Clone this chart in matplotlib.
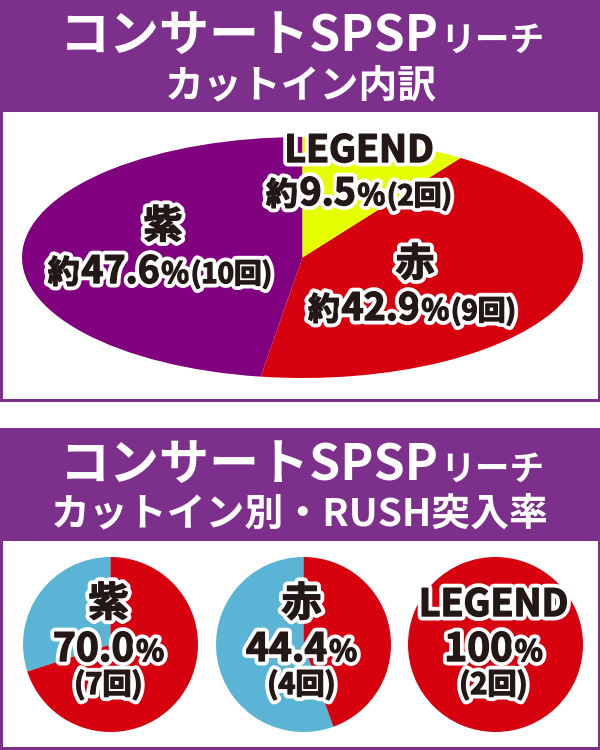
import matplotlib
matplotlib.use("Agg")
import matplotlib.pyplot as plt
import matplotlib.patheffects as pe
from matplotlib.patches import Rectangle

plt.rcParams['font.family'] = ['Noto Sans CJK JP', 'DejaVu Sans']

# --- data ---
cutin_names = ['紫', '赤', 'LEGEND']
cutin_counts = [10, 9, 2]          # カットイン出現回数
rush_hits = [7, 4, 2]              # うちRUSH突入回数
title_top = ['コンサートSPSP', 'リーチ', 'カットイン内訳']
title_bottom = ['コンサートSPSP', 'リーチ', 'カットイン別・RUSH突入率']

# --- colours ---
HEADER = '#7c2f8b'
PURPLE = '#800080'
RED = '#d7000f'
YELLOW = '#e5ff00'
BLUE = '#5ab4d6'
INK = '#231815'

W, H = 600, 750
fig = plt.figure(figsize=(6, 7.5), dpi=100)

bg = fig.add_axes([0, 0, 1, 1])
bg.set_xlim(0, W)
bg.set_ylim(H, 0)
bg.axis('off')


def px_axes(x0, y0, x1, y1, **kw):
    # axes placed by pixel box (y from the top)
    return fig.add_axes([x0 / W, 1 - y1 / H, (x1 - x0) / W, (y1 - y0) / H], **kw)


# panels: purple frame + header, white body
bg.add_patch(Rectangle((0, 0), W, 402, color=HEADER, lw=0))
bg.add_patch(Rectangle((3, 112), 594.5, 287, color='white', lw=0))
bg.add_patch(Rectangle((0, 428), W, 322, color=HEADER, lw=0))
bg.add_patch(Rectangle((3, 541), 594.5, 206, color='white', lw=0))

# ellipse pie (top)
ax = px_axes(22, 137, 583, 378)
ax.pie(cutin_counts, colors=[PURPLE, RED, YELLOW], startangle=90, counterclock=True,
       wedgeprops=dict(linewidth=0, clip_on=False))
ax.set_aspect('auto')
ax.set_xlim(-1, 1)
ax.set_ylim(-1, 1)
ax.axis('off')

# small pies (bottom)
centers = [110.5, 303.5, 495.5]
r = 87.5
for cx, n, hit in zip(centers, cutin_counts, rush_hits):
    a = px_axes(cx - r, 644.5 - r, cx + r, 644.5 + r)
    a.pie([n - hit, hit], colors=[BLUE, RED], startangle=90, counterclock=True,
          wedgeprops=dict(linewidth=0, clip_on=False))
    a.set_xlim(-1, 1)
    a.set_ylim(-1, 1)
    a.axis('off')

# text overlay
ov = fig.add_axes([0, 0, 1, 1], zorder=10)
ov.set_xlim(0, W)
ov.set_ylim(H, 0)
ov.axis('off')
ov.patch.set_alpha(0)

renderer = fig.canvas.get_renderer()


def line(x, y, pieces, color=INK, outline=True, gap=1.5):
    ts = []
    for s, size in pieces:
        t = ov.text(0, y, s, fontsize=size, fontweight='bold', color=color,
                    ha='left', va='baseline')
        if outline:
            # white halo, then a thin ink stroke to fatten the glyphs
            t.set_path_effects([pe.Stroke(linewidth=6.5, foreground='white'),
                                pe.Stroke(linewidth=1.0, foreground=color),
                                pe.Normal()])
        ts.append(t)
    ws = [t.get_window_extent(renderer).width for t in ts]
    cur = x - (sum(ws) + gap * (len(ws) - 1)) / 2
    for t, w in zip(ts, ws):
        t.set_x(cur)
        cur += w + gap


# headers
line(302, 51, [(title_top[0], 36), (title_top[1], 25)], color='white', outline=False)
line(301, 97, [(title_top[2], 28)], color='white', outline=False)
line(302, 480, [(title_bottom[0], 36), (title_bottom[1], 25)], color='white', outline=False)
line(300, 525, [(title_bottom[2], 28)], color='white', outline=False)

# ellipse labels
total = sum(cutin_counts)
name_pos = [(163, 238), (415, 276), (359, 162)]
val_pos = [(160, 283), (412, 320), (359, 205)]
for name, n, (nx, ny), (vx, vy) in zip(cutin_names, cutin_counts, name_pos, val_pos):
    line(nx, ny, [(name, 27 if name == 'LEGEND' else 28)])
    line(vx, vy, [('約', 23), (f'{100 * n / total:.1f}', 27), ('%', 21), (f'({n}回)', 20)])

# small pie labels
for cx, name, n, hit in zip(centers, cutin_names, cutin_counts, rush_hits):
    rate = 100 * hit / n
    rate_s = '100' if rate == 100 else f'{rate:.1f}'
    line(cx - 2, 616, [(name, 27 if name == 'LEGEND' else 29)])
    line(cx - 2, 661, [(rate_s, 28), ('%', 21)])
    line(cx - 2, 694, [(f'({hit}回)', 21)])

fig.savefig('out.png', dpi=100)
